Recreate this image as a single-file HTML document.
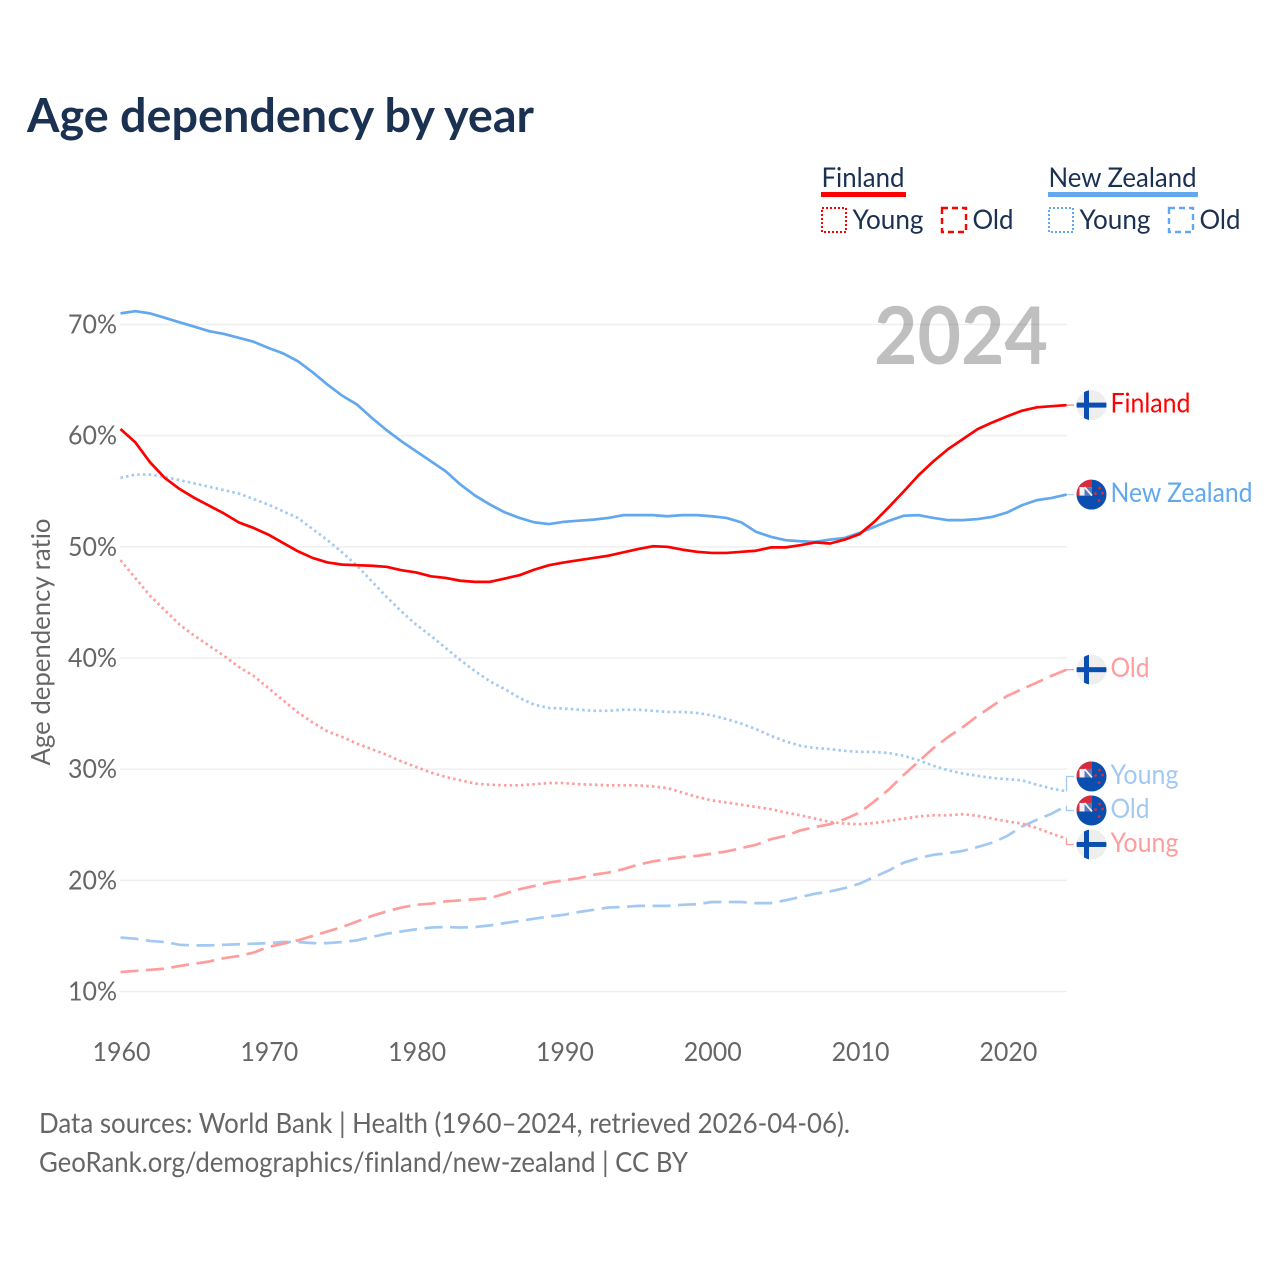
<!DOCTYPE html>
<html lang="en">
<head>
<meta charset="utf-8">
<title>Age dependency by year</title>
<style>
html,body{margin:0;padding:0;background:#fff;}
svg{display:block;}
text{font-family:"Lato","Carlito","Liberation Sans",sans-serif;font-variant-ligatures:none;}
</style>
</head>
<body>
<svg id="chart" xmlns="http://www.w3.org/2000/svg" width="1280" height="1280" viewBox="0 0 1280 1280">
  <rect x="0" y="0" width="1280" height="1280" fill="#fff"/>
  <text x="27" y="132" font-size="47" font-weight="700" fill="#1a3152" textLength="507" lengthAdjust="spacingAndGlyphs">Age dependency by year</text>

  <g font-size="27" fill="#1a3152">
    <text x="821.5" y="187" textLength="83" lengthAdjust="spacingAndGlyphs">Finland</text>
    <rect x="821" y="192" width="85" height="5" fill="#ff0000"/>
    <rect x="822" y="208" width="24" height="24" fill="none" stroke="#ff0000" stroke-width="2" stroke-dasharray="2 2"/>
    <text x="852.5" y="229" textLength="71" lengthAdjust="spacingAndGlyphs">Young</text>
    <rect x="942" y="208" width="24" height="24" fill="none" stroke="#ff0000" stroke-width="2.4" stroke-dasharray="6 4"/>
    <text x="972.5" y="229" textLength="41" lengthAdjust="spacingAndGlyphs">Old</text>
    <text x="1048.5" y="187" textLength="148" lengthAdjust="spacingAndGlyphs">New Zealand</text>
    <rect x="1048" y="192" width="150" height="5" fill="#62a8ee"/>
    <rect x="1049" y="208" width="24" height="24" fill="none" stroke="#62a8ee" stroke-width="2" stroke-dasharray="2 2"/>
    <text x="1079.5" y="229" textLength="71" lengthAdjust="spacingAndGlyphs">Young</text>
    <rect x="1169" y="208" width="24" height="24" fill="none" stroke="#62a8ee" stroke-width="2.4" stroke-dasharray="6 4"/>
    <text x="1199.5" y="229" textLength="41" lengthAdjust="spacingAndGlyphs">Old</text>
  </g>

  <text transform="translate(50,642) rotate(-90)" text-anchor="middle" font-size="26" fill="#666" textLength="247" lengthAdjust="spacingAndGlyphs">Age dependency ratio</text>

  <g id="grid"></g>
  <g id="yticks"></g>
  <g id="xticks"></g>
  <text x="874" y="364" font-size="80" font-weight="700" fill="#000" fill-opacity="0.25" textLength="174" lengthAdjust="spacingAndGlyphs">2024</text>
  <g id="series"></g>
  <g id="labels"></g>

  <g font-size="28" fill="#666">
    <text x="39" y="1133" textLength="811" lengthAdjust="spacingAndGlyphs">Data sources: World Bank | Health (1960–2024, retrieved 2026-04-06).</text>
    <text x="39" y="1172" textLength="649" lengthAdjust="spacingAndGlyphs">GeoRank.org/demographics/finland/new-zealand | CC BY</text>
  </g>
</svg>
<script>
const years = [1960,1961,1962,1963,1964,1965,1966,1967,1968,1969,1970,1971,1972,1973,1974,1975,1976,1977,1978,1979,1980,1981,1982,1983,1984,1985,1986,1987,1988,1989,1990,1991,1992,1993,1994,1995,1996,1997,1998,1999,2000,2001,2002,2003,2004,2005,2006,2007,2008,2009,2010,2011,2012,2013,2014,2015,2016,2017,2018,2019,2020,2021,2022,2023,2024];
const xTickLabels = [1960,1970,1980,1990,2000,2010,2020];
const yTickLabels = [10,20,30,40,50,60,70];
const finlandTotal = [60.6,59.4,57.6,56.2,55.2,54.4,53.7,53.0,52.2,51.7,51.1,50.35,49.6,49.0,48.6,48.4,48.35,48.3,48.2,47.9,47.7,47.35,47.2,46.95,46.85,46.85,47.15,47.45,47.95,48.35,48.6,48.8,49.0,49.2,49.5,49.8,50.05,50.0,49.75,49.55,49.45,49.45,49.55,49.65,49.95,49.95,50.15,50.4,50.3,50.65,51.15,52.25,53.6,55.0,56.45,57.7,58.8,59.7,60.6,61.2,61.75,62.25,62.55,62.65,62.75];
const finlandYoung = [48.8,47.2,45.6,44.3,43.0,42.0,41.1,40.2,39.2,38.4,37.3,36.2,35.1,34.2,33.4,32.9,32.3,31.8,31.3,30.7,30.2,29.7,29.3,29.0,28.7,28.6,28.55,28.55,28.65,28.75,28.75,28.65,28.6,28.55,28.55,28.55,28.45,28.3,27.9,27.5,27.2,27.0,26.8,26.6,26.4,26.1,25.85,25.55,25.25,25.1,25.05,25.15,25.35,25.55,25.75,25.85,25.85,25.95,25.8,25.55,25.3,25.1,24.7,24.2,23.75];
const finlandOld = [11.75,11.85,11.95,12.05,12.3,12.5,12.7,13.0,13.2,13.5,14.0,14.3,14.6,15.0,15.4,15.8,16.3,16.8,17.2,17.55,17.8,17.9,18.1,18.2,18.3,18.4,18.8,19.2,19.5,19.8,20.0,20.2,20.5,20.7,21.0,21.4,21.7,21.9,22.1,22.2,22.4,22.6,22.9,23.2,23.7,24.0,24.5,24.8,25.05,25.5,26.1,27.1,28.2,29.5,30.7,31.9,32.9,33.8,34.8,35.7,36.6,37.2,37.8,38.4,38.95];
const nzTotal = [71.0,71.2,71.0,70.6,70.2,69.8,69.4,69.15,68.8,68.45,67.9,67.4,66.7,65.7,64.6,63.6,62.8,61.6,60.5,59.5,58.6,57.7,56.8,55.6,54.6,53.8,53.1,52.6,52.2,52.05,52.25,52.35,52.45,52.6,52.85,52.85,52.85,52.75,52.85,52.85,52.75,52.6,52.2,51.35,50.9,50.6,50.5,50.45,50.65,50.8,51.25,51.8,52.35,52.8,52.85,52.6,52.4,52.4,52.5,52.7,53.1,53.75,54.2,54.4,54.7];
const nzYoung = [56.2,56.5,56.5,56.3,56.0,55.7,55.4,55.1,54.8,54.3,53.8,53.2,52.6,51.6,50.6,49.5,48.3,46.9,45.5,44.2,43.0,42.0,40.9,39.8,38.8,37.9,37.2,36.4,35.8,35.5,35.45,35.35,35.25,35.25,35.35,35.35,35.25,35.15,35.15,35.05,34.85,34.5,34.1,33.6,33.0,32.5,32.1,31.9,31.8,31.65,31.55,31.55,31.45,31.2,30.8,30.3,29.9,29.6,29.4,29.2,29.1,29.0,28.6,28.25,28.0];
const nzOld = [14.85,14.75,14.55,14.45,14.2,14.15,14.15,14.2,14.25,14.3,14.35,14.45,14.45,14.35,14.35,14.45,14.6,14.9,15.2,15.4,15.6,15.75,15.8,15.75,15.8,15.95,16.15,16.35,16.55,16.75,16.9,17.15,17.35,17.55,17.6,17.7,17.7,17.7,17.8,17.85,18.05,18.05,18.05,17.95,17.95,18.2,18.5,18.8,19.0,19.3,19.7,20.3,20.9,21.6,22.0,22.3,22.45,22.65,23.0,23.4,24.0,24.85,25.45,26.0,26.7];

const NS = 'http://www.w3.org/2000/svg';
const xScale = v => 120.5 + (v - 1960) * (1066.5 - 120.5) / 64;
const yScale = v => 991.5 - (v - 10) * (991.5 - 324.5) / 60;

function mk(tag, attrs, parent) {
  const n = document.createElementNS(NS, tag);
  for (const k in attrs) n.setAttribute(k, attrs[k]);
  if (parent) parent.appendChild(n);
  return n;
}

const grid = document.getElementById('grid');
const yticks = document.getElementById('yticks');
const xticks = document.getElementById('xticks');
const seriesG = document.getElementById('series');
const labelsG = document.getElementById('labels');

yTickLabels.forEach(v => {
  const line = mk('line', {x1: 120, x2: 1067, y1: yScale(v), y2: yScale(v), stroke: '#efefef', 'stroke-width': 1.5}, grid);
  
  
  const t = mk('text', {x: 117, y: yScale(v) + 9, 'text-anchor': 'end', 'font-size': 26, fill: '#666', textLength: 49, lengthAdjust: 'spacingAndGlyphs'}, yticks);
  
  
  t.textContent = v + '%';
});

xTickLabels.forEach(v => {
  const t = mk('text', {x: xScale(v) + 1, y: 1061, 'text-anchor': 'middle', 'font-size': 26, fill: '#666', textLength: 58, lengthAdjust: 'spacingAndGlyphs'}, xticks);
  
  
  t.textContent = v;
});

const seriesDefs = [
  {key: 'nz-young', values: nzYoung, color: '#a3c9f3', dash: '2.5 3.2', label: 'Young', flag: 'nz'},
  {key: 'nz-old', values: nzOld, color: '#a3c9f3', dash: '18 7.5', label: 'Old', flag: 'nz'},
  {key: 'finland-young', values: finlandYoung, color: '#ff9d9d', dash: '2.5 3.2', label: 'Young', flag: 'fi'},
  {key: 'finland-old', values: finlandOld, color: '#ff9d9d', dash: '18 7.5', label: 'Old', flag: 'fi'},
  {key: 'nz-total', values: nzTotal, color: '#62a8ee', dash: '', label: 'New Zealand', flag: 'nz'},
  {key: 'finland-total', values: finlandTotal, color: '#ff0000', dash: '', label: 'Finland', flag: 'fi'}
];

seriesDefs.forEach(s => {
  const d = s.values.map((v, i) => (i ? 'L' : 'M') + xScale(years[i]).toFixed(2) + ' ' + yScale(v).toFixed(2)).join('');
  const p = mk('path', {d: d, fill: 'none', stroke: s.color, 'stroke-width': 2.7, 'stroke-linejoin': 'round'}, seriesG);
  if (s.dash) p.setAttribute('stroke-dasharray', s.dash);
  
  
});

/* dodge end labels so they keep a minimum vertical spacing */
const ends = seriesDefs.map(s => ({s: s, y: yScale(s.values[s.values.length - 1])})).sort((a, b) => a.y - b.y);
const minGap = 34;
let groups = ends.map(e => ({items: [e], c: e.y}));
let merged = true;
while (merged) {
  merged = false;
  for (let i = 0; i < groups.length - 1; i++) {
    const a = groups[i], b = groups[i + 1];
    const aBottom = a.c + (a.items.length - 1) * minGap / 2;
    const bTop = b.c - (b.items.length - 1) * minGap / 2;
    if (bTop - aBottom < minGap) {
      const items = a.items.concat(b.items);
      const c = items.reduce((t, e) => t + e.y, 0) / items.length;
      groups.splice(i, 2, {items: items, c: c});
      merged = true;
      break;
    }
  }
}
groups.forEach(g => g.items.forEach((e, i) => {
  e.ly = g.c + (i - (g.items.length - 1) / 2) * minGap + (g.items.length > 1 ? -1.5 : 0);
}));

const labelWidths = {'Young': 68, 'Old': 39, 'Finland': 80, 'New Zealand': 142};
let clipId = 0;

function drawFlag(kind, cx, cy, parent) {
  const g = mk('g', {}, parent);
  
  
  const id = 'flagclip' + (clipId++);
  const cp = mk('clipPath', {id: id}, g);
  mk('circle', {cx: cx, cy: cy, r: 15}, cp);
  const body = mk('g', {'clip-path': 'url(#' + id + ')'}, g);
  if (kind === 'fi') {
    mk('rect', {x: cx - 15, y: cy - 15, width: 30, height: 30, fill: '#eeeeee'}, body);
    mk('rect', {x: cx - 15, y: cy - 2.5, width: 30, height: 5, fill: '#0a4fb0'}, body);
    mk('rect', {x: cx - 7.5, y: cy - 15, width: 5, height: 30, fill: '#0a4fb0'}, body);
  } else {
    mk('rect', {x: cx - 15, y: cy - 15, width: 30, height: 30, fill: '#0a4fb0'}, body);
    mk('rect', {x: cx - 15, y: cy - 15, width: 15.5, height: 16, fill: '#d92b3a'}, body);
    mk('rect', {x: cx - 12, y: cy - 7.5, width: 12.5, height: 8.5, fill: '#f3f3f6'}, body);
    mk('rect', {x: cx - 7, y: cy - 7.5, width: 7.5, height: 8.5, fill: '#5a78bb'}, body);
    mk('path', {d: 'M' + (cx - 7) + ' ' + (cy - 7.5) + 'L' + (cx + 0.5) + ' ' + (cy + 1), stroke: '#f3f3f6', 'stroke-width': 1.8}, body);
    [[8, -6.5], [11, -1.5], [4, -1], [7.5, 6]].forEach(p => {
      mk('circle', {cx: cx + p[0], cy: cy + p[1], r: 1.4, fill: '#d92b3a'}, body);
    });
  }
}

ends.forEach(e => {
  const s = e.s;
  const lead = mk('path', {d: 'M1066.5 ' + e.y + 'V' + e.ly + 'H1074', fill: 'none', stroke: s.color, 'stroke-width': 1.3}, labelsG);
  if (s.key.indexOf('total') >= 0) lead.setAttribute('stroke-opacity', '0.5');
  
  
});

ends.forEach(e => {
  const s = e.s;
  drawFlag(s.flag, 1091.5, e.ly, labelsG);
  const t = mk('text', {x: 1110.5, y: e.ly + 7.5, 'font-size': 27, fill: s.color, textLength: labelWidths[s.label], lengthAdjust: 'spacingAndGlyphs'}, labelsG);
  
  
  t.textContent = s.label;
});
</script>
</body>
</html>
